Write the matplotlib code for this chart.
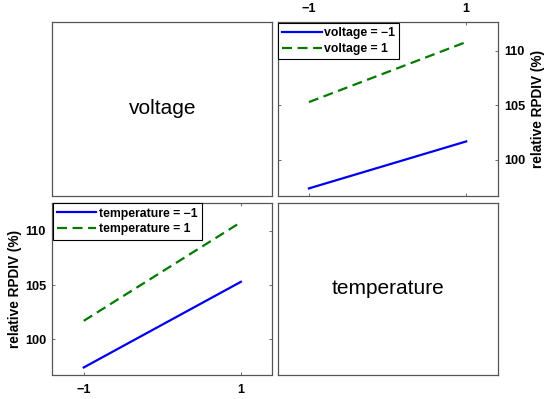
import matplotlib
matplotlib.use("Agg")
import matplotlib.pyplot as plt

plt.rcParams['font.family'] = ['Liberation Sans', 'DejaVu Sans']
plt.rcParams['font.weight'] = 'bold'

# interaction means: relative RPDIV (%) for voltage x temperature
levels = [-1, 1]
v_m1 = [97.4, 101.7]   # voltage = -1, temperature = -1 / 1
v_p1 = [105.3, 110.8]  # voltage = 1, temperature = -1 / 1
t_m1 = [97.4, 105.3]   # temperature = -1, voltage = -1 / 1
t_p1 = [101.7, 110.8]  # temperature = 1, voltage = -1 / 1
yticks = [100, 105, 110]

W, H = 550, 399
fig = plt.figure(figsize=(5.5, 3.99), dpi=100)

def box(x0, y0, x1, y1):
    return fig.add_axes([x0 / W, 1 - y1 / H, (x1 - x0) / W, (y1 - y0) / H])

ax_tl = box(52.3, 22.3, 272.3, 195.5)
ax_tr = box(277.5, 22.3, 497.7, 195.5)
ax_bl = box(52.3, 202.7, 272.3, 374.5)
ax_br = box(277.5, 202.7, 497.7, 374.5)

edge = '#555555'
for ax in (ax_tl, ax_tr, ax_bl, ax_br):
    for s in ax.spines.values():
        s.set_color(edge)
        s.set_linewidth(0.9)

for ax, name in ((ax_tl, 'voltage'), (ax_br, 'temperature')):
    ax.set_xticks([])
    ax.set_yticks([])
    ax.text(0.5, 0.5, name, ha='center', va='center', fontsize=15,
            fontweight='normal', transform=ax.transAxes)

blue = '#0000ee'
green = '#007a00'
lw = 1.6

ax_tr.plot(levels, v_m1, color=blue, lw=lw, label='voltage = \u22121')
ax_tr.plot(levels, v_p1, color=green, lw=lw, ls=(0, (4.5, 2.5)), label='voltage = 1')
ax_bl.plot(levels, t_m1, color=blue, lw=lw, label='temperature = \u22121')
ax_bl.plot(levels, t_p1, color=green, lw=lw, ls=(0, (4.5, 2.5)), label='temperature = 1')

for ax in (ax_tr, ax_bl):
    ax.set_xlim(-1.4, 1.4)
    ax.set_ylim(96.75, 112.6)
    ax.set_xticks(levels)
    ax.set_xticklabels(['\u22121', '1'])
    ax.set_yticks(yticks)
    ax.tick_params(direction='in', length=2.5, width=0.6, color=edge,
                   labelsize=9.2, top=True, bottom=True, left=True, right=True)
    leg = ax.legend(loc='upper left', borderaxespad=0.05, fancybox=False,
                    framealpha=1, edgecolor='black', handlelength=3.2,
                    handletextpad=0.2, borderpad=0.35, labelspacing=0.3,
                    prop={'weight': 'bold', 'size': 8.8})
    leg.get_frame().set_linewidth(0.8)

ax_tr.tick_params(labeltop=True, labelbottom=False, labelright=True, labelleft=False)
ax_tr.tick_params(axis='x', pad=5)
ax_tr.tick_params(axis='y', pad=4.5)
ax_tr.yaxis.set_label_position('right')
ax_tr.set_ylabel('relative RPDIV (%)', fontsize=9.8, fontweight='bold', labelpad=4)

ax_bl.tick_params(labeltop=False, labelbottom=True, labelright=False, labelleft=True)
ax_bl.tick_params(axis='x', pad=7)
ax_bl.tick_params(axis='y', pad=4.5)
ax_bl.set_ylabel('relative RPDIV (%)', fontsize=9.8, fontweight='bold', labelpad=2)

fig.savefig('out.png', dpi=100)
